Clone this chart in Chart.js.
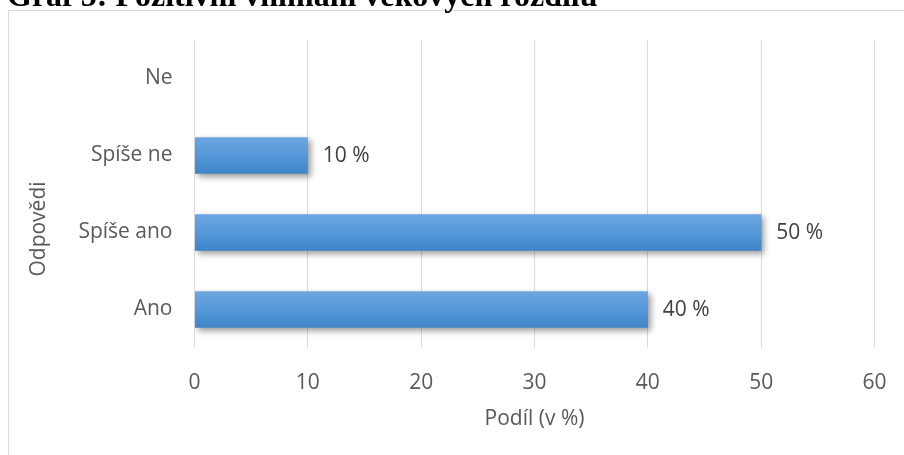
<!DOCTYPE html>
<html lang="cs">
<head>
<meta charset="utf-8">
<script src="https://cdn.jsdelivr.net/npm/chart.js@4/dist/chart.umd.min.js"></script>
<style>
  html, body { margin: 0; padding: 0; background: #fff; overflow: hidden; }
  #box { position: absolute; left: 8px; top: 10px; width: 920px; height: 470px; border: 1px solid #d9d9d9; box-sizing: border-box; }
  #wrap { position: absolute; left: 0; top: 0; width: 904px; height: 455px; }
  #nadpis { position: absolute; left: 7px; top: -21px; font: bold 32px "Liberation Serif", "Times New Roman", serif; line-height: 32px; white-space: nowrap; color: #000; }
</style>
</head>
<body>
<div id="box"></div>
<div id="wrap"><canvas id="graf"></canvas></div>
<div id="nadpis">Graf 5: Pozitivní vnímání věkových rozdílů</div>
<script>
const kategorie = ['Ne', 'Spíše ne', 'Spíše ano', 'Ano'];
const podil = [0, 10, 50, 40];
const osaX = [0, 10, 20, 30, 40, 50, 60];

const PISMO = '"Open Sans", "Noto Sans", sans-serif';
const VELIKOST = 21;
const SIRKA_SLOUPCE = 0.477;

// stín pod pruhy + popisky hodnot
const stinAPopisky = {
    id: 'stinAPopisky',
    beforeDatasetsDraw(chart) {
        const c = chart.ctx;
        c.save();
        c.shadowColor = 'rgba(0, 0, 0, 0.38)';
        c.shadowBlur = 6;
        c.shadowOffsetX = 3;
        c.shadowOffsetY = 3;
    },
    afterDatasetsDraw(chart) {
        const c = chart.ctx;
        c.restore();
        c.save();
        c.font = VELIKOST + 'px ' + PISMO;
        c.fillStyle = '#404040';
        c.textAlign = 'left';
        c.textBaseline = 'middle';
        chart.getDatasetMeta(0).data.forEach((bar, i) => {
            if (!podil[i]) return;
            c.fillText(podil[i] + ' %', bar.x + 15, bar.y + 1);
        });
        c.restore();
    },
    afterDraw(chart) {
        // popis svislé osy
        const c = chart.ctx;
        c.save();
        c.translate(39, 229);
        c.rotate(-Math.PI / 2);
        c.font = VELIKOST + 'px ' + PISMO;
        c.fillStyle = '#595959';
        c.textAlign = 'center';
        c.textBaseline = 'middle';
        c.fillText('Odpovědi', 0, 0);
        c.restore();
    }
};

function prechod(ctx) {
    const chart = ctx.chart;
    if (!chart.chartArea) return '#5b9bd5';
    const y = chart.scales.y;
    const stred = y.getPixelForValue(ctx.dataIndex);
    const pul = y.height / kategorie.length * SIRKA_SLOUPCE / 2;
    const g = chart.ctx.createLinearGradient(0, stred - pul, 0, stred + pul);
    g.addColorStop(0, '#6ca6df');
    g.addColorStop(0.5, '#5599da');
    g.addColorStop(1, '#3e84c6');
    return g;
}

new Chart(document.getElementById('graf'), {
    type: 'bar',
    data: {
        labels: kategorie,
        datasets: [{
            data: podil,
            backgroundColor: prechod,
            borderWidth: 0,
            barPercentage: SIRKA_SLOUPCE,
            categoryPercentage: 1
        }]
    },
    options: {
        indexAxis: 'y',
        responsive: true,
        maintainAspectRatio: false,
        animation: false,
        layout: { padding: { top: 40, right: 29.5, bottom: 0, left: 0 } },
        plugins: {
            legend: { display: false },
            tooltip: { enabled: false }
        },
        scales: {
            x: {
                min: 0,
                max: 60,
                afterBuildTicks: s => { s.ticks = osaX.map(v => ({ value: v })); },
                afterFit: s => {
                    s.height = 107;
                    s.paddingLeft = 0;
                    s.paddingRight = 0;
                },
                grid: { color: '#d9d9d9', lineWidth: 1, drawTicks: false },
                border: { display: false },
                ticks: { padding: 22.5, color: '#595959', font: { family: PISMO, size: VELIKOST } },
                title: {
                    display: true,
                    text: 'Podíl (v %)',
                    color: '#595959',
                    font: { family: PISMO, size: VELIKOST },
                    padding: { top: 0, bottom: 23 }
                }
            },
            y: {
                afterFit: s => {
                    s.width = 194.5;
                    s.paddingTop = 0;
                    s.paddingBottom = 0;
                },
                grid: { display: false, drawTicks: false },
                border: { display: false },
                ticks: { padding: 22, color: '#595959', font: { family: PISMO, size: VELIKOST } }
            }
        }
    },
    plugins: [stinAPopisky]
});
</script>
</body>
</html>
